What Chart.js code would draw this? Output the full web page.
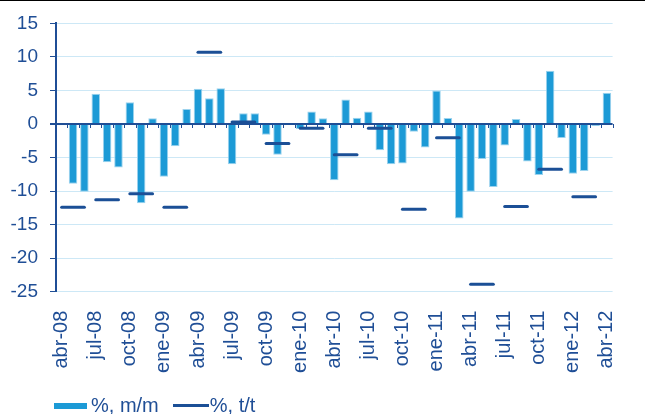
<!DOCTYPE html>
<html>
<head>
<meta charset="utf-8">
<script src="https://cdn.jsdelivr.net/npm/chart.js@4/dist/chart.umd.min.js"></script>
<style>
  html, body { margin: 0; padding: 0; background: #fff; }
  #wrap { position: relative; width: 650px; height: 414px; }
  #topRule { position: absolute; left: 0; top: 0; width: 645px; height: 1px; background: #000; }
  #legend { position: absolute; left: 54px; top: 393px; font: 20px "Liberation Sans", Arial, sans-serif; color: #1F4E96; white-space: nowrap; }
  #legend span { display: inline-block; vertical-align: middle; }
  .swBar { width: 33px; height: 6px; background: #1C9AD6; margin-right: 4px; }
  .swLine { width: 36px; height: 3px; background: #1B4F96; margin-left: 14px; margin-right: 1px; }
</style>
</head>
<body>
<div id="wrap">
  <canvas id="chart" width="650" height="414"></canvas>
  <div id="topRule"></div>
  <div id="legend"><span class="swBar"></span><span>%, m/m</span><span class="swLine"></span><span>%, t/t</span></div>
</div>
<script>
const months = [
  "abr-08", "may-08", "jun-08", "jul-08", "ago-08", "sep-08", "oct-08", "nov-08", "dic-08",
  "ene-09", "feb-09", "mar-09", "abr-09", "may-09", "jun-09", "jul-09", "ago-09", "sep-09",
  "oct-09", "nov-09", "dic-09", "ene-10", "feb-10", "mar-10", "abr-10", "may-10", "jun-10",
  "jul-10", "ago-10", "sep-10", "oct-10", "nov-10", "dic-10", "ene-11", "feb-11", "mar-11",
  "abr-11", "may-11", "jun-11", "jul-11", "ago-11", "sep-11", "oct-11", "nov-11", "dic-11",
  "ene-12", "feb-12", "mar-12", "abr-12"
];

// % m/m, one per month
const monthlyChange = [
  -0.2, -8.9, -10.1, 4.5, -5.7, -6.5, 3.25, -11.8, 0.85,
  -7.85, -3.3, 2.25, 5.25, 3.85, 5.35, -6.0, 1.6, 1.6,
  -1.6, -4.6, -0.1, -0.75, 1.85, 0.85, -8.4, 3.65, 0.95,
  1.85, -3.9, -6.0, -5.9, -1.15, -3.5, 5.0, 0.9, -14.1,
  -10.1, -5.2, -9.4, -3.2, 0.75, -5.6, -7.6, 7.95, -2.1,
  -7.4, -7.0, -0.3, 4.65
];

// % t/t, one per quarter, starting with abr-jun 08
const quarterlyChange = [
  -12.4, -11.3, -10.4, -12.4, 10.7, 0.3, -2.9, -0.65,
  -4.6, -0.65, -12.7, -2.05, -23.9, -12.3, -6.75, -10.85
];

const yTicks = [15, 10, 5, 0, -5, -10, -15, -20, -25];

const navy = "#1F4E96";
const lineBlue = "#1B4F96";
const barBlue = "#1C9AD6";
const gridBlue = "#CDE8F6";

// each month carries the value of the quarter it belongs to
const quarterOfMonth = months.map((m, i) => Math.floor(i / 3));
const quarterLine = months.map((m, i) => {
  const q = quarterOfMonth[i];
  return q < quarterlyChange.length ? quarterlyChange[q] : null;
});

const zeroAxis = {
  id: "zeroAxis",
  afterDatasetDraw(chart, args) {
    if (args.index !== 0) return;
    const { ctx, chartArea, scales } = chart;
    const y0 = scales.y.getPixelForValue(0);
    ctx.save();
    ctx.strokeStyle = navy;
    ctx.lineWidth = 2;
    ctx.beginPath();
    ctx.moveTo(chartArea.left - 6, y0);
    ctx.lineTo(chartArea.right, y0);
    ctx.stroke();
    ctx.lineWidth = 1;
    ctx.beginPath();
    for (let i = 0; i <= months.length; i++) {
      const x = Math.round(scales.x.getPixelForValue(i - 0.5)) + 0.5;
      ctx.moveTo(x, y0);
      ctx.lineTo(x, y0 + 4);
    }
    ctx.stroke();
    ctx.restore();
  }
};

Chart.defaults.font.family = '"Liberation Sans", Arial, sans-serif';
Chart.defaults.color = navy;

new Chart(document.getElementById("chart"), {
  type: "bar",
  data: {
    labels: months,
    datasets: [
      {
        type: "bar",
        label: "%, m/m",
        data: monthlyChange,
        backgroundColor: barBlue,
        borderColor: "#9CD3EE",
        borderWidth: 1,
        barPercentage: 0.75,
        categoryPercentage: 1,
        order: 1,
      },
      {
        type: "line",
        label: "%, t/t",
        data: quarterLine,
        borderColor: lineBlue,
        borderWidth: 3,
        borderCapStyle: "round",
        pointRadius: 0,
        pointHoverRadius: 0,
        tension: 0,
        spanGaps: false,
        order: 0,
        segment: {
          borderColor: (ctx) =>
            quarterOfMonth[ctx.p0DataIndex] === quarterOfMonth[ctx.p1DataIndex] ? lineBlue : "rgba(0,0,0,0)",
        },
      },
    ],
  },
  options: {
    responsive: false,
    animation: false,
    layout: { padding: { top: 23, right: 8, left: 0, bottom: 0 } },
    plugins: {
      legend: { display: false },
      tooltip: { enabled: false },
    },
    scales: {
      x: {
        grid: { display: false, drawTicks: false },
        border: { display: false },
        ticks: {
          autoSkip: false,
          maxRotation: 90,
          minRotation: 90,
          padding: 19,
          font: { size: 20 },
          callback: (value, index) => (index % 3 === 0 ? months[index] : ""),
        },
        afterFit: (scale) => { scale.height = 122.3; },
      },
      y: {
        min: -25,
        max: 15,
        afterBuildTicks: (scale) => { scale.ticks = yTicks.map((v) => ({ value: v })); },
        ticks: { padding: 12, font: { size: 19 } },
        grid: {
          color: (ctx) => (ctx.tick && ctx.tick.value === 0 ? "rgba(0,0,0,0)" : gridBlue),
          tickColor: navy,
          tickLength: 6,
          lineWidth: 1,
        },
        border: { color: navy, width: 2 },
        afterFit: (scale) => { scale.width = 56; },
      },
    },
  },
  plugins: [zeroAxis],
});
</script>
</body>
</html>
